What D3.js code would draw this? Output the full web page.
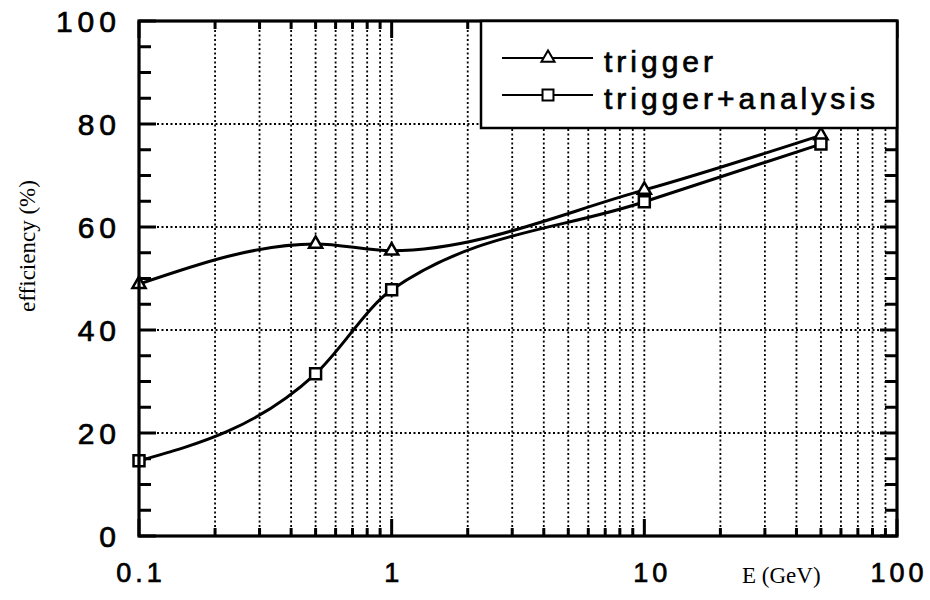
<!DOCTYPE html>
<html>
<head>
<meta charset="utf-8">
<script src="https://cdn.jsdelivr.net/npm/d3@7"></script>
<style>
  body { margin: 0; background: #fff; }
  svg text { fill: #000; }
  .num { stroke: #000; stroke-width: 0.7px; }
</style>
</head>
<body>
<svg id="chart" width="930" height="600"></svg>
<script>
// data
var energies = [0.1, 0.5, 1, 10, 50]
var trigger = [48.9, 56.7, 55.4, 67.2, 77.8]
var triggerAnalysis = [14.6, 31.5, 47.8, 64.9, 76.1]
var seriesNames = ['trigger', 'trigger+analysis']
var yTicks = [0, 20, 40, 60, 80, 100]
var xTickLabels = ['0.1', '1', '10', '100']

var svg = d3.select('#chart')
// plot box (note: "top" is reserved on window, so use other names)
var pLeft = 139, pRight = 897, pTop = 21, pBottom = 536

var x = d3.scaleLog().domain([0.1, 100]).range([pLeft, pRight])
var y = d3.scaleLinear().domain([0, 100]).range([pBottom, pTop])

// minor + major positions on the log axis
var xAll = []
for (let d of [0.1, 1, 10]) {
  for (let k = 1; k <= 9; k++) xAll.push(d * k)
}
xAll.push(100)
var xMajor = [0.1, 1, 10, 100]
var yMinor = d3.range(0, 101, 5)

// grid (dotted)
var grid = svg.append('g')
grid.selectAll('line.vx')
  .data(xAll.filter(v => v > 0.1 && v < 100))
  .enter().append('line')
  .attr('x1', d => x(d)).attr('x2', d => x(d))
  .attr('y1', pTop).attr('y2', pBottom)
  .attr('stroke', '#000').attr('stroke-width', 1.8)
  .attr('stroke-dasharray', '2,2.5')
grid.selectAll('line.hy')
  .data(yTicks.filter(v => v > 0 && v < 100))
  .enter().append('line')
  .attr('x1', pLeft).attr('x2', pRight)
  .attr('y1', d => y(d)).attr('y2', d => y(d))
  .attr('stroke', '#000').attr('stroke-width', 1.8)
  .attr('stroke-dasharray', '2,2.5')

// ticks pointing inward on all four sides
var ticks = svg.append('g').attr('stroke', '#000').attr('stroke-width', 3)
for (let v of xAll) {
  let len = xMajor.includes(v) ? 17 : 8
  let px = x(v)
  ticks.append('line').attr('x1', px).attr('x2', px).attr('y1', pBottom).attr('y2', pBottom - len)
  ticks.append('line').attr('x1', px).attr('x2', px).attr('y1', pTop).attr('y2', pTop + len)
}
for (let v of yMinor) {
  let len = v % 20 == 0 ? 17 : 12
  let py = y(v)
  ticks.append('line').attr('x1', pLeft).attr('x2', pLeft + len).attr('y1', py).attr('y2', py)
  ticks.append('line').attr('x1', pRight).attr('x2', pRight - len).attr('y1', py).attr('y2', py)
}

// curves, smoothed along x
var line = d3.line()
  .x(d => x(d[0]))
  .y(d => y(d[1]))
  .curve(d3.curveMonotoneX)

var series = [trigger, triggerAnalysis]
series.forEach(function(vals) {
  svg.append('path')
    .datum(energies.map((e, i) => [e, vals[i]]))
    .attr('d', line)
    .attr('fill', 'none')
    .attr('stroke', '#000')
    .attr('stroke-width', 3)
})

var triangle = d3.symbol().type(d3.symbolTriangle).size(75)
var square = d3.symbol().type(d3.symbolSquare).size(120)

svg.append('g').selectAll('path')
  .data(energies.map((e, i) => [e, trigger[i]]))
  .enter().append('path')
  .attr('d', triangle)
  .attr('transform', d => `translate(${x(d[0])},${y(d[1])})`)
  .attr('fill', '#fff').attr('stroke', '#000').attr('stroke-width', 2.5)

svg.append('g').selectAll('path')
  .data(energies.map((e, i) => [e, triggerAnalysis[i]]))
  .enter().append('path')
  .attr('d', square)
  .attr('transform', d => `translate(${x(d[0])},${y(d[1])})`)
  .attr('fill', '#fff').attr('stroke', '#000').attr('stroke-width', 2.5)

// frame
svg.append('rect')
  .attr('x', pLeft).attr('y', pTop)
  .attr('width', pRight - pLeft).attr('height', pBottom - pTop)
  .attr('fill', 'none').attr('stroke', '#000').attr('stroke-width', 3.2)

// legend
var lg = svg.append('g')
lg.append('rect')
  .attr('x', 481).attr('y', pTop)
  .attr('width', pRight - 481).attr('height', 128 - pTop)
  .attr('fill', '#fff').attr('stroke', '#000').attr('stroke-width', 2.5)
var rows = [58, 95]
var syms = [triangle, square]
seriesNames.forEach(function(name, i) {
  lg.append('line')
    .attr('x1', 502).attr('x2', 593)
    .attr('y1', rows[i]).attr('y2', rows[i])
    .attr('stroke', '#000').attr('stroke-width', 2)
  lg.append('path')
    .attr('d', syms[i])
    .attr('transform', `translate(548,${rows[i]})`)
    .attr('fill', '#fff').attr('stroke', '#000').attr('stroke-width', 2)
  lg.append('text')
    .attr('class', 'num')
    .attr('x', 604).attr('y', rows[i] + 14)
    .attr('font-family', 'Liberation Sans, Arial, sans-serif')
    .attr('font-size', 30)
    .attr('letter-spacing', 4)
    .text(name)
})

// tick labels
svg.append('g').selectAll('text')
  .data(yTicks)
  .enter().append('text')
  .attr('class', 'num')
  .attr('x', 121)
  .attr('y', d => y(d) + 11)
  .attr('text-anchor', 'end')
  .attr('font-family', 'Liberation Sans, Arial, sans-serif')
  .attr('font-size', 30)
  .attr('letter-spacing', 5)
  .text(d => d)

svg.append('g').selectAll('text')
  .data(xTickLabels)
  .enter().append('text')
  .attr('class', 'num')
  .attr('x', d => x(+d) + (d == '10' ? 8 : 2))
  .attr('y', 582)
  .attr('text-anchor', 'middle')
  .attr('font-family', 'Liberation Sans, Arial, sans-serif')
  .attr('font-size', 27)
  .attr('letter-spacing', 4)
  .text(d => d)

// axis titles
svg.append('text')
  .attr('transform', 'translate(35,246) rotate(-90)')
  .attr('text-anchor', 'middle')
  .attr('font-family', 'Liberation Serif, Times New Roman, serif')
  .attr('font-size', 23)
  .text('efficiency (%)')

svg.append('text')
  .attr('x', 742).attr('y', 583)
  .attr('font-family', 'Liberation Serif, Times New Roman, serif')
  .attr('font-size', 23)
  .text('E (GeV)')
</script>
</body>
</html>
